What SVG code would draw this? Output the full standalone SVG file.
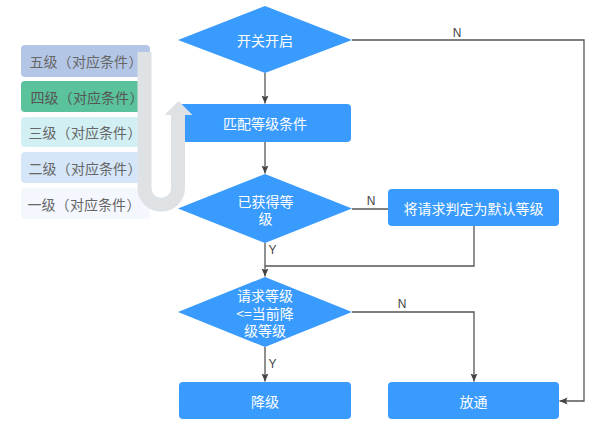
<svg xmlns="http://www.w3.org/2000/svg" width="597" height="425" viewBox="0 0 597 425">
<style>
.blue{fill:#3a9bfe}
.t{font-family:"Noto Sans CJK SC","Noto Sans",sans-serif;font-size:14px;fill:#ffffff;text-anchor:middle;dominant-baseline:central}
.lg{font-family:"Noto Sans CJK SC","Noto Sans",sans-serif;font-size:14px;fill:#666666;dominant-baseline:central}
.c{fill:none;stroke:#555555;stroke-width:1.3}
.lbl{font-family:"Liberation Sans",Arial,sans-serif;font-size:12px;fill:#444444;text-anchor:middle}
</style>
<defs>
<marker id="ah" markerUnits="userSpaceOnUse" markerWidth="9" markerHeight="8" refX="8" refY="4" orient="auto">
<path d="M0,0.5 L8,4 L0,7.5 L1.5,4 z" fill="#444444"/>
</marker>
</defs>
<g id="legend">
<g id="l5"><rect x="21" y="45" width="129" height="32" rx="4" fill="#b4c6e6"/><text class="lg" y="61"><tspan x="29.5">五级</tspan><tspan x="57.5">（</tspan><tspan x="72">对应条件</tspan><tspan x="128.5">）</tspan></text></g>
<g id="l4"><rect x="21" y="81" width="129" height="31" rx="4" fill="#5ac39b"/><text class="lg" y="96.5" style="fill:#555"><tspan x="30.5">四级</tspan><tspan x="58.5">（</tspan><tspan x="73">对应条件</tspan><tspan x="129.5">）</tspan></text></g>
<g id="l3"><rect x="21" y="117" width="129" height="30" rx="4" fill="#d2f0f4"/><text class="lg" y="132"><tspan x="28.5">三级</tspan><tspan x="56.5">（</tspan><tspan x="71">对应条件</tspan><tspan x="127.5">）</tspan></text></g>
<g id="l2"><rect x="21" y="152" width="129" height="31" rx="4" fill="#d5e6f8"/><text class="lg" y="167.5"><tspan x="28.5">二级</tspan><tspan x="56.5">（</tspan><tspan x="71">对应条件</tspan><tspan x="127.5">）</tspan></text></g>
<g id="l1"><rect x="21" y="188" width="129" height="31" rx="4" fill="#f4f8fe"/><text class="lg" y="203.5"><tspan x="27.5">一级</tspan><tspan x="55.5">（</tspan><tspan x="70">对应条件</tspan><tspan x="126.5">）</tspan></text></g>
</g>
<g id="n1"><polygon class="blue" points="178,40 265,6 352,40 265,73"/><text class="t" x="265" y="40">开关开启</text></g>
<g id="n2"><rect class="blue" x="179" y="104" width="172" height="38" rx="4"/><text class="t" x="265" y="123">匹配等级条件</text></g>
<g id="upArrow">
<path d="M144.5,52 V188 A16.75,16.75 0 0 0 178,188 V114" fill="none" stroke="#dfe2e5" stroke-width="14"/>
<polygon points="164.5,115 178.5,101 192.5,115" fill="#dfe2e5"/>
</g>
<g id="n3"><polygon class="blue" points="178,208.5 265,174 352,208.5 265,243"/><text class="t" x="265.5" y="201">已获得等</text><text class="t" x="265.5" y="218">级</text></g>
<g id="n4"><rect class="blue" x="388" y="189" width="171" height="37" rx="4"/><text class="t" x="473.5" y="207.5">将请求判定为默认等级</text></g>
<g id="n5"><polygon class="blue" points="178,312 265,277 352,312 265,347"/><text class="t" x="265" y="295">请求等级</text><text class="t" x="265" y="312.5">&lt;=当前降</text><text class="t" x="265" y="330">级等级</text></g>
<g id="n6"><rect class="blue" x="179" y="382" width="172" height="37" rx="4"/><text class="t" x="265" y="400.5">降级</text></g>
<g id="n7"><rect class="blue" x="388" y="382" width="171" height="37" rx="4"/><text class="t" x="473.5" y="400.5">放通</text></g>
<g id="connectors">
<path class="c" d="M265,73 V103.5" marker-end="url(#ah)"/>
<path class="c" d="M265,142 V173.5" marker-end="url(#ah)"/>
<path class="c" d="M352,209 H388"/>
<path class="c" d="M474,226 V266 H265"/>
<path class="c" d="M265,243 V276.5" marker-end="url(#ah)"/>
<path class="c" d="M352,312 H474 V381.5" marker-end="url(#ah)"/>
<path class="c" d="M265,347 V381.5" marker-end="url(#ah)"/>
<path class="c" d="M352,40 H584 V401 H559.5" marker-end="url(#ah)"/>
<text class="lbl" x="457" y="37">N</text>
<text class="lbl" x="371" y="205">N</text>
<text class="lbl" x="272.5" y="254">Y</text>
<text class="lbl" x="402" y="308">N</text>
<text class="lbl" x="272.5" y="368">Y</text>
</g>
</svg>
